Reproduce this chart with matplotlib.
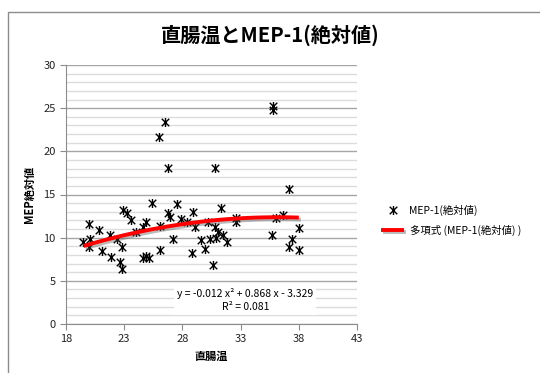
import numpy as np
import matplotlib
matplotlib.use("Agg")
import matplotlib.pyplot as plt
import matplotlib.patheffects as pe
from matplotlib.path import Path
from matplotlib.patches import Rectangle
from matplotlib.ticker import MultipleLocator

plt.rcParams['font.family'] = ['Noto Sans CJK JP', 'DejaVu Sans']

# rectal temperature vs MEP-1 absolute value
temp = [19.5, 20.0, 20.1, 20.0, 20.8, 21.1, 21.8, 21.9, 22.6, 22.8,
        22.8, 22.4, 22.9, 23.2, 23.6, 24.0, 24.6, 24.9, 24.6, 24.9,
        25.1, 25.4, 26.1, 26.1, 26.8, 26.9, 27.5, 27.2, 27.9, 28.4,
        28.8, 28.9, 29.1, 29.6, 29.9, 30.2, 30.6, 30.8, 31.1, 30.4,
        30.9, 31.3, 31.5, 31.8, 32.6, 32.6, 26.5, 26.0, 26.8, 30.8,
        35.8, 35.8, 37.2, 36.0, 36.6, 35.7, 37.4, 37.2, 38.0, 38.0]
mep = [9.5, 11.6, 9.9, 8.9, 10.9, 8.4, 10.3, 7.8, 7.2, 6.4,
       8.9, 9.9, 13.2, 12.8, 12.0, 10.7, 11.2, 11.8, 7.6, 7.9,
       7.7, 14.0, 8.6, 11.4, 12.8, 12.4, 13.9, 9.9, 12.2, 11.8,
       8.2, 13.0, 11.2, 9.7, 8.7, 11.8, 6.8, 11.2, 10.7, 9.8,
       10.0, 13.4, 10.3, 9.5, 11.8, 12.3, 23.4, 21.7, 18.1, 18.1,
       25.3, 24.8, 15.6, 12.3, 12.6, 10.3, 9.9, 8.9, 11.1, 8.6]

xticks = [18, 23, 28, 33, 38, 43]

# polynomial trendline coefficients (a x^2 + b x + c)
coef = [-0.012, 0.868, -3.329]
r2 = 0.081

# asterisk marker: X with a vertical stroke
star = Path([(-1, -1), (1, 1), (-1, 1), (1, -1), (0, -1.2), (0, 1.2)],
            [Path.MOVETO, Path.LINETO, Path.MOVETO, Path.LINETO, Path.MOVETO, Path.LINETO])

fig = plt.figure(figsize=(5.4, 3.73), dpi=100)
# chart area border
fig.patches.append(Rectangle((8 / 540, -0.2), 1.2, 1.2 - 12 / 373,
                             transform=fig.transFigure, fill=False,
                             edgecolor='#8c8c8c', linewidth=1.0))

ax = fig.add_axes([66 / 540, 1 - 324 / 373, (357 - 66) / 540, (324 - 65) / 373])

ax.set_xlim(18, 43)
ax.set_ylim(0, 30)
ax.set_xticks(xticks)
ax.yaxis.set_major_locator(MultipleLocator(5))
ax.yaxis.set_minor_locator(MultipleLocator(1))
ax.grid(True, axis='y', which='major', color='#a6a6a6', linewidth=1.0)
ax.grid(True, axis='y', which='minor', color='#dcdcdc', linewidth=1.0)
ax.set_axisbelow(True)
for s in ['top', 'right']:
    ax.spines[s].set_visible(False)
for s in ['left', 'bottom']:
    ax.spines[s].set_color('#8c8c8c')
ax.tick_params(which='major', length=4, color='#8c8c8c', labelsize=8, labelcolor='#222222')
ax.tick_params(axis='y', which='minor', length=0)

ax.plot(temp, mep, linestyle='none', marker=star, markersize=6.5,
        markeredgecolor='black', markeredgewidth=1.0, label='MEP-1(絶対値)')

xs = np.linspace(min(temp), max(temp), 100)
ys = np.polyval(coef, xs)
ax.plot(xs, ys, color='#ff0000', linewidth=2.8, solid_capstyle='butt',
        path_effects=[pe.SimpleLineShadow(offset=(1.5, -1.5), shadow_color='#555555', alpha=0.4),
                      pe.Normal()],
        label='多項式 (MEP-1(絶対値) )')

ax.text(33.4, 2.8, 'y = %.3f x² + %.3f x - %.3f\nR² = %.3f' % (coef[0], coef[1], -coef[2], r2),
        ha='center', va='center', fontsize=7.5, linespacing=1.4,
        bbox=dict(facecolor='white', edgecolor='none', pad=2))

ax.set_xlabel('直腸温', fontsize=8, fontweight='bold', labelpad=4)
ax.set_ylabel('MEP絶対値', fontsize=8, fontweight='bold', labelpad=5)
fig.suptitle('直腸温とMEP-1(絶対値)', x=0.5, y=0.935, fontsize=14.5, fontweight='bold')

fig.legend(loc='upper left', bbox_to_anchor=(372 / 540, 1 - 195 / 373), frameon=False,
           fontsize=7.5, handlelength=2.2, handletextpad=0.5, labelspacing=0.9)

fig.savefig('out.png', dpi=100)
